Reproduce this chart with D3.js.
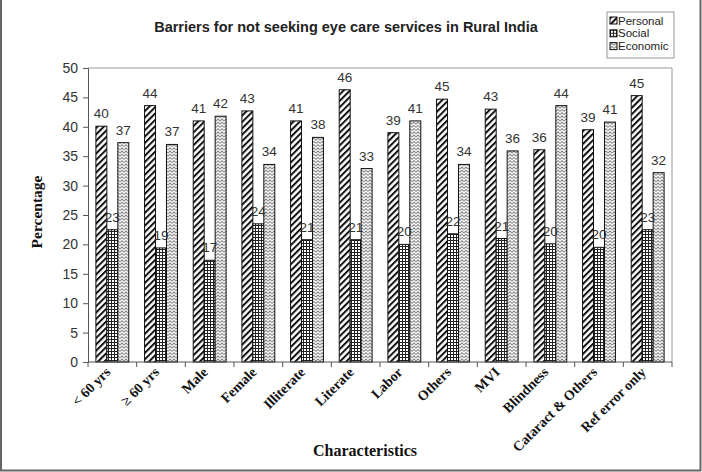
<!DOCTYPE html>
<html>
<head>
<meta charset="utf-8">
<script src="https://cdn.jsdelivr.net/npm/d3@7"></script>
<style>
  body { margin: 0; background: #fff; }
  svg { display: block; }
</style>
</head>
<body>
<script>
var categories = ['< 60 yrs', '\u2265 60 yrs', 'Male', 'Female', 'Illiterate', 'Literate',
                  'Labor', 'Others', 'MVI', 'Blindness', 'Cataract & Others', 'Ref error only'];
var personal = [40.1, 43.6, 41.0, 42.7, 41.0, 46.3, 39.0, 44.7, 43.0, 36.1, 39.5, 45.3];
var social   = [22.5, 19.4, 17.3, 23.5, 20.8, 20.8, 20.0, 21.8, 21.0, 20.1, 19.5, 22.5];
var economic = [37.3, 37.0, 41.8, 33.6, 38.2, 32.9, 41.0, 33.6, 35.9, 43.6, 40.8, 32.2];
var personalLabels = [40, 44, 41, 43, 41, 46, 39, 45, 43, 36, 39, 45];
var socialLabels   = [23, 19, 17, 24, 21, 21, 20, 22, 21, 20, 20, 23];
var economicLabels = [37, 37, 42, 34, 38, 33, 41, 34, 36, 44, 41, 32];
var seriesNames = ['Personal', 'Social', 'Economic'];
var yTicks = [0, 5, 10, 15, 20, 25, 30, 35, 40, 45, 50];

var width = 702, height = 472;
var plot = { left: 88, right: 672, top: 68, bottom: 362 };

var svg = d3.select('body').append('svg')
  .attr('width', width).attr('height', height);

// patterns
var defs = svg.append('defs');
var p1 = defs.append('pattern').attr('id', 'pat-personal')
  .attr('patternUnits', 'userSpaceOnUse').attr('width', 4.5).attr('height', 4.5)
  .attr('patternTransform', 'rotate(45)');
p1.append('rect').attr('width', 4.5).attr('height', 4.5).attr('fill', '#fff');
p1.append('rect').attr('x', 0).attr('width', 2).attr('height', 4.5).attr('fill', '#111');

var p2 = defs.append('pattern').attr('id', 'pat-social')
  .attr('patternUnits', 'userSpaceOnUse').attr('width', 3).attr('height', 3);
p2.append('rect').attr('width', 3).attr('height', 3).attr('fill', '#fff');
p2.append('rect').attr('x', 0).attr('width', 1).attr('height', 3).attr('fill', '#222');
p2.append('rect').attr('y', 0).attr('width', 3).attr('height', 1).attr('fill', '#222');

var p3 = defs.append('pattern').attr('id', 'pat-economic')
  .attr('patternUnits', 'userSpaceOnUse').attr('width', 4).attr('height', 3.2);
p3.append('rect').attr('width', 4).attr('height', 3.2).attr('fill', '#fff');
p3.append('path').attr('d', 'M0,2.6 L2,0.6 L4,2.6')
  .attr('fill', 'none').attr('stroke', '#777').attr('stroke-width', 0.9);

var fills = ['url(#pat-personal)', 'url(#pat-social)', 'url(#pat-economic)'];

// outer frame
svg.append('path')
  .attr('d', 'M1,0 V' + (height - 1.5) + ' H' + (width - 1.5) + ' V0')
  .attr('fill', 'none').attr('stroke', '#666').attr('stroke-width', 2);

var x = d3.scaleBand().domain(categories).range([plot.left, plot.right]);
var inner = d3.scaleBand().domain(seriesNames).range([0, x.bandwidth()])
  .paddingInner(0).paddingOuter(0.72);
var y = d3.scaleLinear().domain([0, 50]).range([plot.bottom, plot.top]);

// plot area border (top, right)
svg.append('path')
  .attr('d', 'M' + plot.left + ',' + plot.top + ' H' + plot.right + ' V' + plot.bottom)
  .attr('fill', 'none').attr('stroke', '#999').attr('stroke-width', 1);

// bars
var series = [personal, social, economic];
var labels = [personalLabels, socialLabels, economicLabels];
series.forEach(function(vals, si) {
  svg.append('g').selectAll('rect')
    .data(vals)
    .enter().append('rect')
    .attr('x', function(d, i) { return x(categories[i]) + inner(seriesNames[si]); })
    .attr('y', function(d) { return y(d); })
    .attr('width', inner.bandwidth())
    .attr('height', function(d) { return plot.bottom - y(d); })
    .attr('fill', fills[si])
    .attr('stroke', '#111').attr('stroke-width', 1);
});

series.forEach(function(vals, si) {
  svg.append('g').selectAll('text')
    .data(vals)
    .enter().append('text')
    .attr('x', function(d, i) { return x(categories[i]) + inner(seriesNames[si]) + inner.bandwidth() / 2; })
    .attr('y', function(d) { return y(d) - 8; })
    .attr('text-anchor', 'middle')
    .attr('font-family', 'Liberation Sans, Arial, sans-serif')
    .attr('font-size', 13.5)
    .attr('fill', '#333')
    .text(function(d, i) { return labels[si][i]; });
});

// y axis
var yAxis = svg.append('g')
  .attr('transform', 'translate(' + plot.left + ',0)')
  .call(d3.axisLeft(y).tickValues(yTicks).tickSize(5).tickPadding(5));
yAxis.select('.domain').attr('stroke', '#555');
yAxis.selectAll('.tick line').attr('stroke', '#555');
yAxis.selectAll('text')
  .attr('font-family', 'Liberation Sans, Arial, sans-serif')
  .attr('font-size', 14).attr('fill', '#333');

// x axis
var xAxis = svg.append('g')
  .attr('transform', 'translate(0,' + plot.bottom + ')');
xAxis.append('line')
  .attr('x1', plot.left).attr('x2', plot.right)
  .attr('stroke', '#555');
xAxis.selectAll('line.tk')
  .data(categories.concat(['end']))
  .enter().append('line').attr('class', 'tk')
  .attr('x1', function(d, i) { return plot.left + i * x.step(); })
  .attr('x2', function(d, i) { return plot.left + i * x.step(); })
  .attr('y1', 0).attr('y2', 5)
  .attr('stroke', '#555');
xAxis.selectAll('text')
  .data(categories)
  .enter().append('text')
  .attr('transform', function(d) {
    return 'translate(' + (x(d) + x.bandwidth() / 2 - 1) + ',11) rotate(-45)';
  })
  .attr('text-anchor', 'end')
  .attr('font-family', 'Liberation Serif, Times New Roman, serif')
  .attr('font-weight', 'bold')
  .attr('font-size', 14)
  .attr('fill', '#111')
  .text(function(d) { return d; });

// titles
svg.append('text')
  .attr('x', 346).attr('y', 32)
  .attr('text-anchor', 'middle')
  .attr('font-family', 'Liberation Sans, Arial, sans-serif')
  .attr('font-weight', 'bold').attr('font-size', 14.5)
  .attr('fill', '#222')
  .text('Barriers for not seeking eye care services in Rural India');

svg.append('text')
  .attr('x', 365).attr('y', 456)
  .attr('text-anchor', 'middle')
  .attr('font-family', 'Liberation Serif, Times New Roman, serif')
  .attr('font-weight', 'bold').attr('font-size', 16)
  .attr('fill', '#111')
  .text('Characteristics');

svg.append('text')
  .attr('transform', 'translate(42,212) rotate(-90)')
  .attr('text-anchor', 'middle')
  .attr('font-family', 'Liberation Serif, Times New Roman, serif')
  .attr('font-weight', 'bold').attr('font-size', 15.5)
  .attr('fill', '#111')
  .text('Percentage');

// legend
var legend = svg.append('g').attr('transform', 'translate(607,12)');
legend.append('rect')
  .attr('width', 67).attr('height', 46)
  .attr('fill', '#fff').attr('stroke', '#999');
var items = legend.selectAll('g.item')
  .data(seriesNames)
  .enter().append('g').attr('class', 'item')
  .attr('transform', function(d, i) { return 'translate(3,' + (5 + i * 12.8) + ')'; });
items.append('rect')
  .attr('width', 7).attr('height', 7)
  .attr('fill', function(d, i) { return fills[i]; })
  .attr('stroke', '#111').attr('stroke-width', 1);
items.append('text')
  .attr('x', 8).attr('y', 7.5)
  .attr('font-family', 'Liberation Sans, Arial, sans-serif')
  .attr('font-size', 11.5).attr('fill', '#222')
  .text(function(d) { return d; });
</script>
</body>
</html>
